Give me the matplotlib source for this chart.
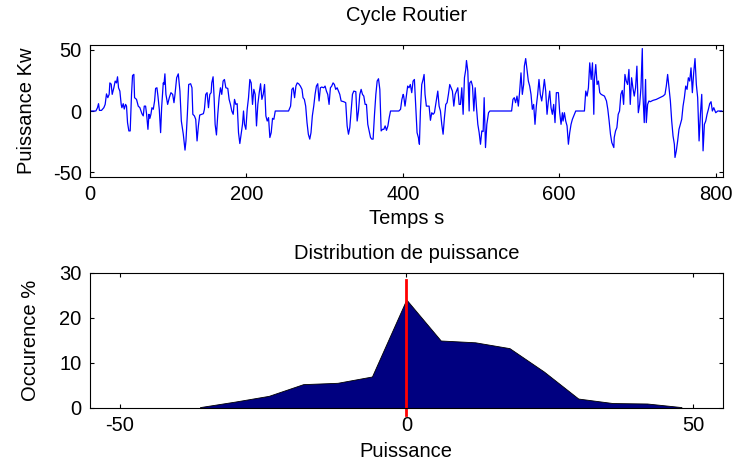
import numpy as np
import matplotlib.pyplot as plt

plt.rcParams['font.family'] = ['Liberation Sans', 'DejaVu Sans']
plt.rcParams['axes.unicode_minus'] = False

# Cycle routier : (temps s, puissance kW)
releve = [
    (0, 0), (7.5, 0), (9.6, 2.7), (10.9, 6), (12.1, 0.5), (14.7, 0.5), (17.7, 2.7), (19.4, 5.4),
    (21.1, 14), (22.8, 10.9), (24.5, 13.6), (25.4, 23), (27.1, 22), (28.4, 13.6), (30.5, 19),
    (32.2, 24.5), (33.9, 23), (35.2, 28), (36.5, 19), (38.2, 16.3), (39.9, 5.4), (40.8, 2.7),
    (42.5, 6), (43.8, 1.6), (45.5, 5.4), (46.7, 4), (48, -9.5), (49.7, -16.3), (51.4, -16.3),
    (53.1, 13.6), (54.4, 29), (56.1, 30), (57, 10.9), (59.5, 9.5), (61.7, 4), (63.8, 2.7),
    (66.4, -2.2), (68.1, -4), (69.4, 4), (71.1, 4), (72.4, -2.7), (74.1, -15), (75.4, -2.7),
    (76.6, -6), (77.9, -2.7), (79.2, 2.7), (80.9, 1.4), (82.6, 8.2), (83.9, 18.5), (85.6, 19),
    (86.9, 12.2), (88.6, 1.4), (90.3, -17.7), (91.6, 2.7), (93.7, 23), (94.6, 21.7), (95.8, 30.4),
    (97.1, 13.6), (99.3, 5.4), (101.4, 10.9), (103.5, 15), (105.7, 13.6), (107.4, 6.8),
    (108.7, 13.6), (110.8, 27.2), (112.9, 30.4), (115, 16.3), (116.8, -8.2), (119.3, -19),
    (121.5, -32), (122.7, -24.5), (124.5, -2.7), (126.2, 21.7), (128.7, 22.3), (130.4, 19),
    (131.5, -2.7), (133.5, -4), (135.2, -6.8), (136.9, -24.5), (138.6, -12.2), (140.3, -3.3),
    (142.9, -2.7), (145, -2.2), (146.3, 1.4), (148.0, 13.6), (149.7, 15), (151.5, 2.7),
    (153.2, 13.6), (154.9, 15), (155.7, 23), (157.4, 28), (158.7, 10.9), (160, -10.9),
    (161.7, -19.6), (163.4, -2.7), (165.1, 10.9), (166.8, 19), (168.5, 13.6), (170.2, 24.5),
    (171.9, 25.8), (173.7, 19), (176.2, 18.5), (177.9, 9.5), (179.6, 5.4), (181.3, 0),
    (183.1, -2.7), (184.8, 9.5), (186.5, 5.4), (188.2, 6), (189.9, -17.7), (191.6, -26.6),
    (193.3, -19), (195, -10.9), (196.3, 0), (197.6, -10.9), (199.3, -15), (201, 1.4),
    (202.7, 10.9), (204.4, 25.8), (206.1, 23), (207.8, 5.4), (209.5, 17.7), (211.2, 13.6),
    (212.9, -12.2), (214.6, 5.4), (216.4, 15), (218.1, 22.3), (219.8, 9.5), (221.5, 13.6),
    (223.2, 21.7), (224.9, -4), (226.6, -8.2), (228.3, -5.4), (230, -21.7), (231.7, -17.7),
    (233.4, -6), (235.1, -6.8), (236.9, 0), (253.9, 0), (256.5, 4), (258.2, 17.7), (259.9, 19),
    (261.6, 10.9), (263.3, 20.4), (265.0, 23), (266.8, 22.3), (269, 20.4), (271.1, 17.7),
    (272.4, 10.9), (274.1, 9.5), (275.8, 4), (277.5, -9.5), (279.2, -19), (281, -23),
    (282.6, -17.7), (284.3, -4), (286.1, 4), (287.8, 13.6), (289.5, 20.4), (291.2, 22.3),
    (292.9, 8.2), (294.6, 19), (296.3, 19.6), (298.9, 19), (300.6, 20.4), (302.3, 16.3),
    (304, 13.6), (305.7, 5.4), (307.4, 19), (309.1, 20.4), (310.8, 23), (312.5, 21.7),
    (314.2, 17.7), (316, 19), (317.7, 16.3), (319.4, 13.6), (321.1, 8.2), (324.5, 7.6),
    (327, 6.8), (328.8, -12.2), (330.5, -19), (332.2, -13.6), (333.9, 0), (335.6, 13.6),
    (337.3, 16.3), (339.9, 15.8), (341.6, -8.2), (343.3, 0), (345, 13.6), (346.7, 17.7),
    (348.4, 13.6), (350.1, 12.2), (351.8, 5.4), (353.5, 5.4), (355.2, -10.9), (357, -16.3),
    (358.7, -21.7), (360.3, -23), (362, -23), (363.8, -2.7), (365.5, 13.6), (367.2, 24.5),
    (368.9, 26.4), (370.6, 17.7), (372.3, -16.3), (374, -15), (375.7, -15), (377.4, -12.2),
    (379.1, -15.8), (380.9, -12.2), (382.6, -5.4), (384.3, 0), (394.9, 0), (397.1, 1.4),
    (398.8, 9.5), (400.5, 13.6), (401.1, 12.2), (402.8, 4), (404.5, 12.2), (406.2, 20.4),
    (407.9, 19), (409.6, 21.7), (411.4, 15), (413.1, 24.5), (414.8, 25.8), (416.5, 4),
    (418.2, -17.7), (419.9, -21.7), (421.2, -27.2), (422.5, 0), (424.2, 21.7), (425.9, 25.8),
    (427.2, 29.9), (428.4, 13.6), (430.1, 4), (431.9, 4), (433.6, 4), (435.3, -7.6),
    (437, -1.4), (438.7, -2.7), (440.4, -1.4), (442.1, 5.4), (443.8, 12.2), (444.7, 16.3),
    (446.4, 4), (448.1, 0), (449.8, -10.9), (451.5, -19), (453.2, -5.4), (454.9, 5.4),
    (456.6, 6.8), (458.3, 13.6), (460, 21.7), (461.7, 19), (463.4, 16.3), (465.2, 4),
    (466.9, 13.6), (468.6, 16.3), (470.3, 19), (472, 5.4), (473.7, 5.4), (475.4, 19),
    (477.1, -2.7), (478.8, 27.2), (480.5, 34), (481.4, 41.3), (483.1, 32.6), (484.8, 0),
    (485.6, 23), (487.4, 24.5), (489.1, 20.4), (490.8, 0), (492.5, 19), (494.2, 2.7),
    (495.9, -10.9), (497.6, -17.7), (499.3, -27.2), (501, -16.3), (502.7, -16.8), (504, 10.9),
    (505.7, -29.9), (507.4, -10.9), (509.6, -1.4), (511.3, 0), (539.1, 0), (540.8, 9.5),
    (542.5, 10.9), (544.2, 6.8), (546, 12.2), (547.7, 4), (549.4, 16.3), (551.1, 31.2),
    (552.8, 13.6), (554.5, 21.7), (555.4, 36.7), (557.1, 42.9), (558.8, 34), (560.5, 24.5),
    (562.2, 20.4), (563.9, 13.6), (565.6, 1.4), (567.3, 5.4), (569, -10.9), (570.7, 4),
    (572.4, 13.6), (574.1, 25.8), (575.8, 13.6), (577.6, 8.2), (579.3, 16.3), (581, 25.8),
    (582.7, 16.3), (584.4, -2.7), (586.1, 8.2), (587.8, 16.3), (589.5, 2.7), (591.2, -2.7),
    (592.9, 5.4), (594.6, -9.5), (596.3, 15), (598.9, 15), (600.6, -1.4), (602.3, -10.9),
    (604, -1.4), (604.9, -8.2), (606.6, -1.4), (608.3, -8.2), (610, -12.2), (611.7, -27.2),
    (613.4, -17.7), (615.1, -10.9), (616.8, -6.8), (618.6, -4), (621.1, 0), (632.2, 0),
    (633.9, 16.3), (635.6, 12.2), (637.3, 19), (639, 39.4), (640.8, 25.8), (642.5, 39.4),
    (644.2, -2.7), (645, 25.8), (646.7, 38), (648.4, 21.7), (650.1, 24.5), (651.8, 15),
    (653.6, 13.6), (657.8, 12.2), (660.4, 8.2), (662.1, 1.4), (663.8, -8.2), (665.5, -19),
    (667.2, -25.8), (669.8, -29.9), (670.3, -21.7), (672, -16.3), (673.7, -13.6), (675.4, -2.7),
    (677.1, 0), (678.8, 13.6), (680.6, 16.8), (682.3, 5.4), (684, 29.9), (685.7, 24.5),
    (687.4, 21.7), (689.1, 34), (690.8, 5.4), (692.5, 27.2), (694.2, 19), (695.9, 12.2),
    (697.6, 19), (699.3, 36.7), (701.1, -1.4), (702.8, 5.4), (704.5, 19), (706.2, 51.1),
    (707.0, 13.6), (708.7, -9.5), (710.4, 25.8), (711.3, -9.5), (713, 5.4), (714.7, 8.2),
    (716.4, 7.6), (719.8, 8.7), (724.1, 9.5), (728.4, 10.9), (732.7, 12.2), (735.2, 13.6),
    (736.9, 20.4), (738.6, 29.9), (740.3, 19), (742.1, 8.2), (743.8, -8.2), (745.5, -20.4),
    (747.2, -27.2), (748, -38), (749.7, -32.6), (751.4, -24.5), (753.1, -15), (754.9, -10.9),
    (756.6, -6.8), (758.3, 4), (760, 10.9), (761.7, 20.4), (763.4, 17.7), (765.1, 27.2),
    (766.8, 24.5), (768.5, 35.3), (770.2, 15), (771.9, 31.2), (773.6, 42.9), (775.3, 21.7),
    (777, 10.9), (778.8, -24.5), (780.5, -2.7), (782.2, 13.6), (783.9, -32.6), (785.6, -10.9),
    (787.3, -8.2), (789, -2.7), (790.7, 1.4), (792.4, 6), (794.1, 7.6), (795.8, 0),
    (797.6, 2.7), (800.1, -1.4), (802.7, 0), (807.8, 0),
]
temps = [p[0] for p in releve]
puissance = [p[1] for p in releve]

# Distribution de puissance (classes en kW, occurence en %)
classes = [-36, -30, -24, -18, -12, -6, 0, 6, 12, 18, 24, 30, 36, 42, 48]
occurence = [0.2, 1.4, 2.7, 5.3, 5.6, 7.0, 24.1, 15.0, 14.6, 13.3, 8.1, 2.1, 1.1, 1.0, 0.2]

fig = plt.figure(figsize=(7.34, 4.63), dpi=100, facecolor='white')

# Haut : cycle routier
ax1 = fig.add_axes([0.1226, 0.6177, 0.862, 0.2851])
ax1.plot(temps, puissance, color='blue', lw=0.9)
ax1.set_xlim(0, 809)
ax1.set_ylim(-54, 54)
ax1.set_xticks([0, 200, 400, 600, 800])
ax1.set_yticks([-50, 0, 50])
ax1.set_title('Cycle Routier', fontsize=14.5, pad=17)
ax1.set_xlabel('Temps s', fontsize=14.5, labelpad=3)
ax1.set_ylabel('Puissance Kw', fontsize=14.5, labelpad=12)

# Bas : distribution
ax2 = fig.add_axes([0.1226, 0.1188, 0.862, 0.2916])
ax2.fill_between(classes, occurence, 0, facecolor='#000080', edgecolor='black', lw=0.6)
ax2.plot([0, 0], [-1.5, 28.5], color='red', lw=2, clip_on=False)
ax2.set_xlim(-55.2, 55.2)
ax2.set_ylim(0, 30)
ax2.set_xticks([-50, 0, 50])
ax2.set_yticks([0, 10, 20, 30])
ax2.set_title('Distribution de puissance', fontsize=14.5, pad=10)
ax2.set_xlabel('Puissance', fontsize=14.5, labelpad=5)
ax2.set_ylabel('Occurence %', fontsize=14.5, labelpad=14)

for ax in (ax1, ax2):
    ax.tick_params(direction='in', top=True, right=True, length=3, width=0.8,
                   labelsize=14.5, pad=6)
    for s in ax.spines.values():
        s.set_linewidth(0.8)

fig.savefig('out.png', dpi=100, facecolor='white')
